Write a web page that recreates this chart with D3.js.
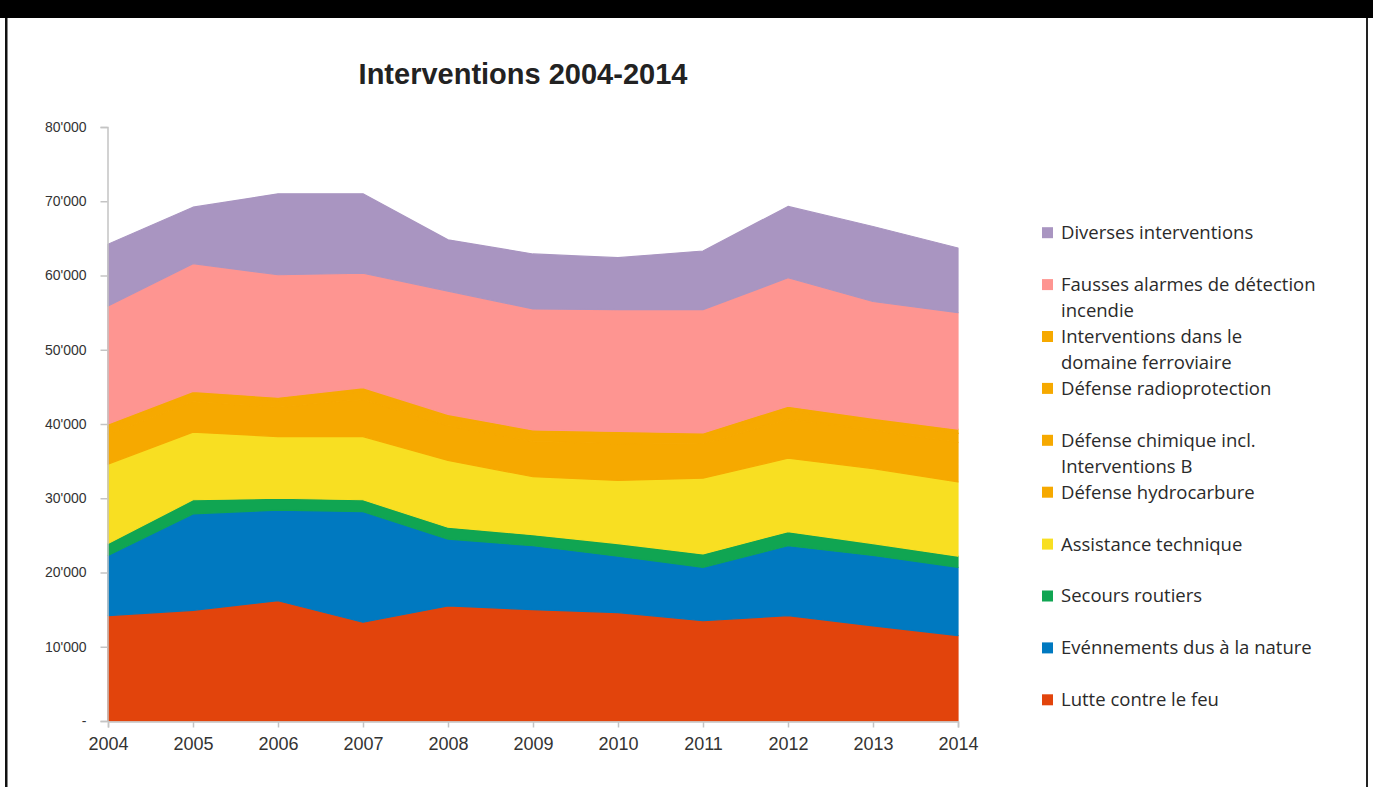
<!DOCTYPE html>
<html>
<head>
<meta charset="utf-8">
<script src="https://cdn.jsdelivr.net/npm/d3@7/dist/d3.min.js"></script>
<style>
  html, body { margin: 0; padding: 0; background: #fff; }
  svg { display: block; }
</style>
</head>
<body>
<svg id="chart" width="1373" height="787"></svg>
<script>
// ---------- data ----------
const years = [2004, 2005, 2006, 2007, 2008, 2009, 2010, 2011, 2012, 2013, 2014];

const lutteFeu        = [14200, 14900, 16200, 13300, 15500, 15000, 14600, 13500, 14200, 12800, 11500];
const evenNature      = [ 8100, 13000, 12200, 14900,  9000,  8600,  7600,  7200,  9400,  9500,  9200];
const secoursRoutiers = [ 1600,  1900,  1600,  1600,  1600,  1500,  1700,  1800,  1900,  1600,  1500];
const assistanceTech  = [10700,  9100,  8300,  8500,  9000,  7800,  8500, 10200,  9900, 10100, 10000];
const defHydrocarbure = [ 4060,  4100,  3950,  5000,  4690,  4740,  4960,  4600,  5280,  5150,  5330];
const defChimique     = [  900,   950,   880,  1100,  1000,  1050,  1100,  1000,  1150,  1100,  1200];
const defRadio        = [   40,    30,    40,    50,    40,    30,    40,    40,    50,    40,    40];
const intFerroviaire  = [  400,   420,   430,   450,   470,   480,   500,   460,   520,   510,   530];
const faussesAlarmes  = [15900, 17200, 16500, 15400, 16600, 16300, 16400, 16600, 17300, 15700, 15700];
const diverses        = [ 8300,  7600, 10900, 10700,  6900,  7400,  7000,  7900,  9600, 10100,  8700];

const yTicks = [0, 10000, 20000, 30000, 40000, 50000, 60000, 70000, 80000];
const yTickLabels = ["-", "10'000", "20'000", "30'000", "40'000", "50'000", "60'000", "70'000", "80'000"];

// stacking order: bottom -> top
const seriesKeys = ["lutte", "nature", "secours", "assist", "hydro", "chim", "radio", "ferro", "fausses", "diverses"];
const seriesValues = {
  lutte: lutteFeu, nature: evenNature, secours: secoursRoutiers, assist: assistanceTech,
  hydro: defHydrocarbure, chim: defChimique, radio: defRadio, ferro: intFerroviaire,
  fausses: faussesAlarmes, diverses: diverses
};
const seriesColors = {
  lutte: "#E2440C", nature: "#0079C0", secours: "#10A552", assist: "#F8DF22",
  hydro: "#F6A900", chim: "#F6A900", radio: "#F6A900", ferro: "#F6A900",
  fausses: "#FE9591", diverses: "#A995C1"
};
// legend (top -> bottom), lines
const legendItems = [
  { key: "diverses", lines: ["Diverses interventions"] },
  { key: "fausses",  lines: ["Fausses alarmes de détection", "incendie"] },
  { key: "ferro",    lines: ["Interventions dans le", "domaine ferroviaire"] },
  { key: "radio",    lines: ["Défense radioprotection"] },
  { key: "chim",     lines: ["Défense chimique incl.", "Interventions B"] },
  { key: "hydro",    lines: ["Défense hydrocarbure"] },
  { key: "assist",   lines: ["Assistance technique"] },
  { key: "secours",  lines: ["Secours routiers"] },
  { key: "nature",   lines: ["Evénnements dus à la nature"] },
  { key: "lutte",    lines: ["Lutte contre le feu"] }
];

// ---------- drawing ----------
const svg = d3.select("#chart");

// slide frame
svg.append("rect").attr("x", 0).attr("y", 0).attr("width", 1373).attr("height", 18).attr("fill", "#000");
svg.append("rect").attr("x", 5).attr("y", 18).attr("width", 2.5).attr("height", 769).attr("fill", "#111");
svg.append("rect").attr("x", 1366).attr("y", 18).attr("width", 2).attr("height", 769).attr("fill", "#222");

const table = years.map((y, i) => {
  const row = { year: y };
  seriesKeys.forEach(k => row[k] = seriesValues[k][i]);
  return row;
});

const x = d3.scaleLinear().domain([2004, 2014]).range([108, 958]);
const y = d3.scaleLinear().domain([0, 80000]).range([721, 127]);

const stack = d3.stack().keys(seriesKeys);
const layers = stack(table);

const area = d3.area()
  .x(d => x(d.data.year))
  .y0(d => y(d[0]))
  .y1(d => y(d[1]));

svg.append("g").selectAll("path")
  .data(layers)
  .join("path")
  .attr("d", area)
  .attr("fill", d => seriesColors[d.key])
  .attr("stroke", d => seriesColors[d.key])
  .attr("stroke-width", 1.2)
  .attr("stroke-linejoin", "round");

// y axis
const yAxis = d3.axisLeft(y)
  .tickValues(yTicks)
  .tickFormat((d, i) => yTickLabels[i])
  .tickSize(7)
  .tickPadding(14);
const gy = svg.append("g").attr("transform", "translate(107.5,0)").call(yAxis);
gy.select(".domain").attr("stroke", "#c4c4c4").attr("stroke-width", 1.5);
gy.selectAll(".tick line").attr("stroke", "#c4c4c4").attr("stroke-width", 1.5);
gy.selectAll("text")
  .attr("font-family", "'Liberation Sans', Arial, sans-serif")
  .attr("font-size", 14)
  .attr("fill", "#333");

// x axis
const xAxis = d3.axisBottom(x)
  .tickValues(years)
  .tickFormat(d3.format("d"))
  .tickSize(6)
  .tickPadding(10);
const gx = svg.append("g").attr("transform", "translate(0,721.5)").call(xAxis);
gx.select(".domain").attr("stroke", "#c4c4c4").attr("stroke-width", 1.5);
gx.selectAll(".tick line").attr("stroke", "#c4c4c4").attr("stroke-width", 1.5);
gx.selectAll("text")
  .attr("font-family", "'Liberation Sans', Arial, sans-serif")
  .attr("font-size", 18)
  .attr("fill", "#333");

// title
svg.append("text")
  .attr("x", 523)
  .attr("y", 84)
  .attr("text-anchor", "middle")
  .attr("font-family", "'Liberation Sans', Arial, sans-serif")
  .attr("font-weight", "bold")
  .attr("font-size", 29)
  .attr("fill", "#222")
  .text("Interventions 2004-2014");

// legend
const leg = svg.append("g");
legendItems.forEach((item, i) => {
  const cy = 232.7 + i * 51.9;
  leg.append("rect")
    .attr("x", 1042).attr("y", cy - 5.5)
    .attr("width", 11).attr("height", 11)
    .attr("fill", seriesColors[item.key]);
  item.lines.forEach((ln, j) => {
    leg.append("text")
      .attr("x", 1061)
      .attr("y", cy + j * 26)
      .attr("dy", "0.35em")
      .attr("font-family", "'Open Sans', Lato, sans-serif")
      .attr("font-size", 18.5)
      .attr("fill", "#2a2a2a")
      .text(ln);
  });
});
</script>
</body>
</html>
